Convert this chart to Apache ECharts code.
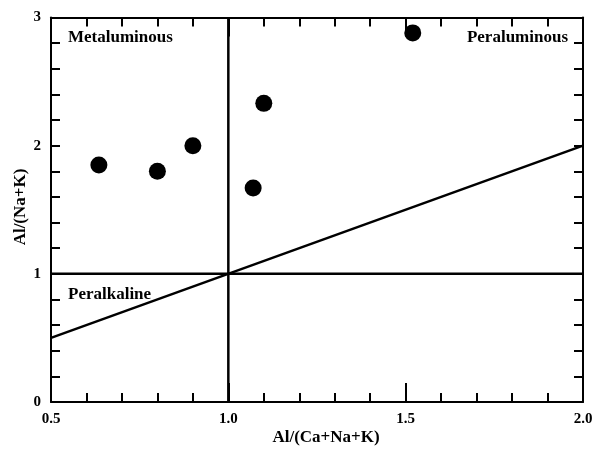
<!DOCTYPE html>
<html>
<head>
<meta charset="utf-8">
<script src="https://cdn.jsdelivr.net/npm/echarts@6/dist/echarts.min.js"></script>
<style>html,body{margin:0;padding:0;background:#fff}#c{width:604px;height:450px}</style>
</head>
<body>
<div id="c"></div>
<script>
// Data
var sampleX = [0.635, 0.80, 0.90, 1.07, 1.10, 1.52];
var sampleY = [1.85, 1.80, 2.00, 1.67, 2.33, 2.88];
var vLineX = [1.0, 1.0];
var vLineY = [0, 3];
var hLineX = [0.5, 2.0];
var hLineY = [1, 1];
var diagX = [0.5, 2.0];
var diagY = [0.5, 2.0];
var xTickLabels = ['0.5', '1.0', '1.5', '2.0'];
var yTickLabels = ['0', '1', '2', '3'];
var fieldNames = ['Metaluminous', 'Peraluminous', 'Peralkaline'];
var xTitle = 'Al/(Ca+Na+K)';
var yTitle = 'Al/(Na+K)';

function zip(a, b) { return a.map(function (v, i) { return [v, b[i]]; }); }

var FONT = '"Liberation Serif", "Times New Roman", serif';
var chart = echarts.init(document.getElementById('c'));
var axisLine = { show: true, onZero: false, lineStyle: { color: '#000', width: 2 } };
var minorTick = { show: true, splitNumber: 5, length: 9, lineStyle: { color: '#000', width: 2 } };
var labelStyle = { color: '#000', fontFamily: FONT, fontWeight: 'bold', fontSize: 15 };

chart.setOption({
  animation: false,
  backgroundColor: '#fff',
  grid: { left: 51, right: 21, top: 17.5, bottom: 48, containLabel: false },
  xAxis: [
    { type: 'value', min: 0.5, max: 2.0, interval: 0.5, position: 'bottom',
      axisLine: axisLine,
      axisTick: { show: true, inside: true, length: 19, lineStyle: { color: '#000', width: 2 } },
      minorTick: minorTick, splitLine: { show: false }, minorSplitLine: { show: false },
      axisLabel: Object.assign({ margin: 10, formatter: function (v) {
        var i = Math.round((v - 0.5) / 0.5); return xTickLabels[i] || ''; } }, labelStyle) },
    { type: 'value', min: 0.5, max: 2.0, interval: 0.5, position: 'top',
      axisLine: axisLine,
      axisTick: { show: true, inside: true, length: 19, lineStyle: { color: '#000', width: 2 } },
      minorTick: minorTick, splitLine: { show: false }, axisLabel: { show: false } }
  ],
  yAxis: [
    { type: 'value', min: 0, max: 3, interval: 1, position: 'left',
      axisLine: axisLine,
      axisTick: { show: true, inside: true, length: 9, lineStyle: { color: '#000', width: 2 } },
      minorTick: minorTick, splitLine: { show: false },
      axisLabel: Object.assign({ margin: 10, formatter: function (v) {
        return yTickLabels[Math.round(v)] || ''; } }, labelStyle) },
    { type: 'value', min: 0, max: 3, interval: 1, position: 'right',
      axisLine: axisLine,
      axisTick: { show: true, inside: true, length: 9, lineStyle: { color: '#000', width: 2 } },
      minorTick: minorTick, splitLine: { show: false }, axisLabel: { show: false } }
  ],
  graphic: [
    { type: 'text', left: 68, top: 29, style: { text: fieldNames[0], fill: '#000', font: 'bold 17px ' + FONT } },
    { type: 'text', right: 36, top: 29, style: { text: fieldNames[1], fill: '#000', font: 'bold 17px ' + FONT } },
    { type: 'text', left: 68, top: 286, style: { text: fieldNames[2], fill: '#000', font: 'bold 17px ' + FONT } },
    { type: 'text', x: 326, y: 438, style: { text: xTitle, fill: '#000', font: 'bold 17px ' + FONT, textAlign: 'center', textVerticalAlign: 'middle' } },
    { type: 'text', x: 21, y: 207, rotation: Math.PI / 2, style: { text: yTitle, fill: '#000', font: 'bold 17px ' + FONT, textAlign: 'center', textVerticalAlign: 'middle' } }
  ],
  series: [
    { type: 'line', data: zip(vLineX, vLineY), symbol: 'none', lineStyle: { color: '#000', width: 2.5 }, silent: true },
    { type: 'line', data: zip(hLineX, hLineY), symbol: 'none', lineStyle: { color: '#000', width: 2.5 }, silent: true },
    { type: 'line', data: zip(diagX, diagY), symbol: 'none', lineStyle: { color: '#000', width: 2.5 }, silent: true },
    { type: 'scatter', data: zip(sampleX, sampleY), symbol: 'circle', symbolSize: 17,
      itemStyle: { color: '#000', opacity: 1 } }
  ]
});
</script>
</body>
</html>
